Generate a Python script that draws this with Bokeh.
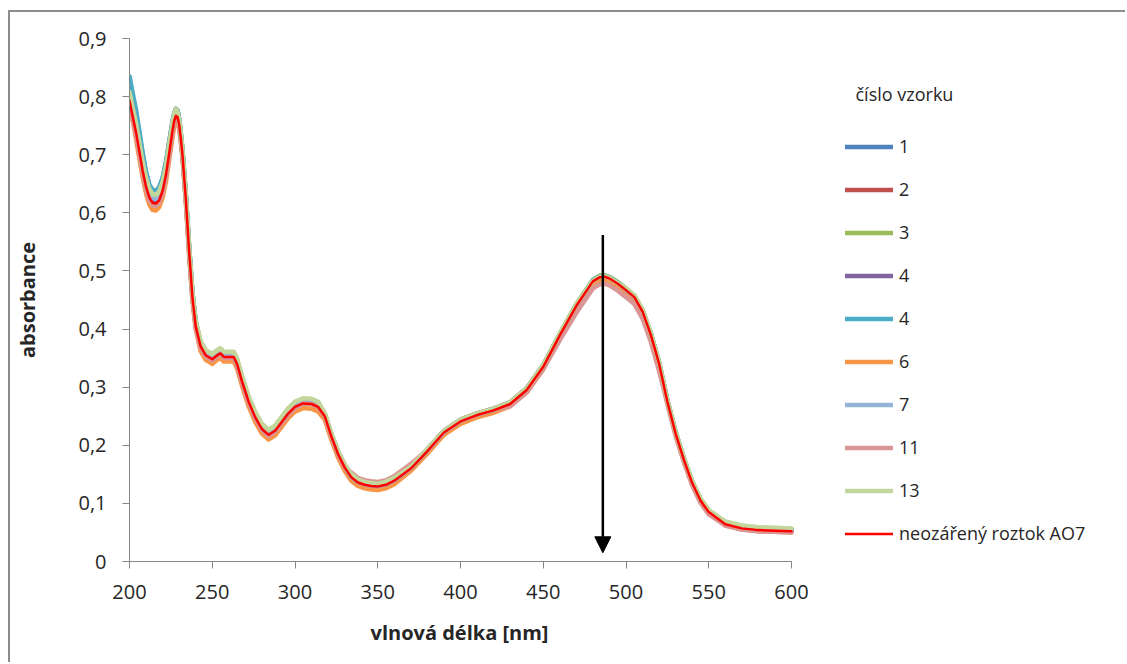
from bokeh.plotting import figure
from bokeh.models import (Range1d, FixedTicker, CustomJSTickFormatter, Legend, LegendItem,
                          Arrow, NormalHead, Label, Title)
from bokeh.embed import file_html
from bokeh.resources import INLINE

wavelength = [200, 202, 204, 206, 208, 210, 212, 214, 216, 218,
              220, 222, 224, 226, 227, 228, 229, 230, 231, 232,
              234, 236, 238, 240, 243, 246, 250,
              253, 255, 257, 260, 263, 265, 268, 272, 276, 280,
              284, 288, 292, 296, 300, 305, 310, 314, 318, 322,
              326, 330, 334, 338, 342, 346, 350, 355, 360, 370,
              380, 390, 400, 410, 420, 430, 440, 450, 460, 470,
              480, 484, 487, 490, 495, 500, 505, 510, 515, 520,
              525, 530, 535, 540, 545, 550, 560, 570, 580, 590,
              600]

s1 = [.828, .799, .770, .735, .699, .669, .648, .639, .638, .644,
      .660, .687, .723, .758, .771, .779, .776, .762, .737, .708,
      .633, .543, .463, .413, .374, .359, .352,
      .359, .362, .356, .356, .356, .344, .314, .279, .252, .232,
      .222, .229, .244, .259, .270, .276, .275, .270, .254, .219,
      .189, .166, .149, .140, .136, .134, .133, .136, .143, .162,
      .192, .224, .243, .254, .262, .273, .297, .337, .391, .442,
      .484, .491, .492, .489, .480, .469, .457, .432, .392, .342,
      .277, .222, .177, .137, .107, .087, .066, .059, .056, .055,
      .054]
s2 = [.798, .770, .743, .710, .677, .650, .631, .622, .621, .627,
      .643, .670, .708, .747, .761, .770, .768, .752, .728, .700,
      .625, .535, .455, .405, .370, .355, .348,
      .355, .358, .352, .352, .352, .340, .310, .275, .248, .228,
      .218, .225, .240, .255, .266, .272, .271, .266, .250, .215,
      .185, .162, .145, .136, .132, .130, .129, .132, .139, .160,
      .190, .222, .241, .252, .260, .271, .295, .335, .389, .440,
      .482, .489, .490, .487, .478, .467, .455, .430, .390, .340,
      .275, .220, .175, .135, .105, .085, .064, .057, .054, .053,
      .052]
s3 = [.813, .785, .758, .725, .690, .661, .642, .633, .632, .638,
      .654, .681, .718, .755, .770, .779, .776, .762, .737, .708,
      .633, .543, .463, .413, .378, .363, .356,
      .363, .366, .360, .360, .360, .348, .318, .283, .256, .236,
      .226, .233, .248, .263, .274, .280, .279, .274, .254, .219,
      .189, .166, .149, .140, .136, .134, .133, .136, .143, .163,
      .193, .225, .244, .255, .263, .274, .298, .338, .392, .443,
      .485, .492, .493, .490, .481, .470, .458, .433, .393, .343,
      .278, .223, .178, .138, .108, .088, .068, .061, .058, .057,
      .056]
s4 = [.798, .769, .742, .709, .676, .649, .630, .621, .620, .626,
      .642, .669, .707, .746, .762, .771, .769, .756, .732, .704,
      .629, .539, .459, .409, .372, .357, .350,
      .357, .360, .354, .354, .354, .342, .312, .277, .250, .230,
      .220, .227, .242, .257, .268, .274, .273, .268, .252, .217,
      .187, .164, .147, .138, .134, .132, .131, .134, .141, .163,
      .193, .225, .244, .255, .263, .274, .298, .338, .390, .441,
      .483, .490, .491, .488, .479, .468, .456, .431, .391, .341,
      .276, .221, .176, .136, .106, .086, .065, .058, .055, .054,
      .053]
s5 = [.835, .805, .776, .740, .703, .671, .648, .639, .638, .644,
      .660, .685, .721, .757, .771, .779, .776, .762, .737, .708,
      .633, .543, .463, .413, .373, .358, .351,
      .358, .361, .355, .355, .355, .343, .313, .278, .251, .231,
      .221, .228, .243, .258, .269, .275, .274, .269, .253, .218,
      .188, .165, .148, .139, .135, .133, .132, .135, .142, .163,
      .192, .224, .243, .254, .262, .273, .297, .337, .391, .442,
      .484, .491, .492, .489, .480, .469, .457, .432, .392, .342,
      .277, .222, .177, .137, .107, .087, .066, .059, .056, .055,
      .054]
s6 = [.788, .757, .726, .693, .660, .633, .614, .605, .604, .610,
      .626, .653, .691, .730, .748, .757, .758, .745, .721, .695,
      .620, .530, .450, .400, .362, .347, .340,
      .347, .350, .344, .344, .344, .332, .302, .267, .240, .220,
      .210, .217, .232, .247, .258, .264, .263, .258, .244, .209,
      .179, .156, .139, .130, .126, .124, .123, .126, .133, .156,
      .186, .218, .237, .248, .256, .267, .291, .331, .385, .436,
      .478, .485, .486, .483, .474, .463, .451, .426, .386, .336,
      .273, .218, .173, .133, .103, .083, .062, .055, .052, .051,
      .050]
s7 = [.803, .773, .746, .713, .680, .653, .634, .625, .624, .630,
      .646, .673, .711, .750, .763, .772, .766, .753, .729, .701,
      .626, .536, .456, .406, .371, .356, .349,
      .356, .359, .353, .353, .353, .341, .311, .276, .249, .229,
      .219, .226, .241, .256, .267, .273, .272, .267, .251, .216,
      .186, .163, .146, .137, .133, .131, .130, .133, .140, .161,
      .191, .223, .242, .253, .261, .272, .296, .336, .390, .441,
      .483, .490, .491, .488, .479, .468, .456, .431, .391, .341,
      .276, .221, .176, .136, .106, .086, .065, .058, .055, .054,
      .053]
s11 = [.793, .761, .734, .701, .668, .641, .622, .613, .612, .618,
       .634, .661, .699, .738, .755, .764, .762, .750, .726, .698,
       .623, .533, .453, .403, .368, .353, .346,
       .353, .356, .350, .350, .350, .338, .308, .273, .246, .226,
       .216, .223, .238, .253, .264, .272, .271, .266, .250, .215,
       .185, .162, .153, .144, .140, .138, .137, .140, .147, .168,
       .192, .224, .243, .254, .262, .267, .291, .331, .381, .428,
       .470, .477, .478, .475, .466, .455, .443, .418, .378, .328,
       .271, .216, .171, .131, .101, .081, .062, .055, .052, .051,
       .050]
s13 = [.808, .780, .753, .720, .687, .660, .641, .632, .631, .637,
       .653, .680, .718, .755, .770, .779, .774, .761, .737, .709,
       .634, .544, .464, .414, .379, .364, .357,
       .364, .367, .361, .361, .361, .349, .319, .284, .257, .237,
       .227, .234, .249, .264, .275, .281, .280, .275, .255, .220,
       .190, .167, .150, .141, .137, .135, .134, .137, .144, .163,
       .193, .225, .244, .255, .263, .274, .298, .338, .392, .443,
       .483, .490, .491, .488, .479, .470, .458, .433, .393, .343,
       .278, .223, .178, .138, .108, .088, .069, .062, .059, .058,
       .057]
ao7 = [.793, .765, .738, .705, .672, .645, .626, .617, .616, .622,
       .638, .665, .703, .742, .758, .767, .765, .752, .728, .700,
       .625, .535, .455, .405, .370, .355, .348,
       .355, .358, .352, .352, .352, .340, .310, .275, .248, .228,
       .218, .225, .240, .255, .266, .272, .271, .266, .250, .215,
       .185, .162, .145, .136, .132, .130, .129, .132, .139, .160,
       .190, .222, .241, .252, .260, .271, .295, .335, .389, .440,
       .482, .489, .490, .487, .478, .467, .455, .430, .390, .340,
       .275, .220, .175, .135, .105, .085, .064, .057, .054, .053,
       .052]

series_labels = ["1", "2", "3", "4", "4", "6", "7", "11", "13", "neozářený roztok AO7"]
series_values = [s1, s2, s3, s4, s5, s6, s7, s11, s13, ao7]
series_colors = ["#4F81BD", "#C0504D", "#9BBB59", "#8064A2", "#4BACC6",
                 "#F79646", "#95B3D7", "#D99694", "#C3D69B", "#FF0000"]
series_widths = [4.5] * 9 + [2.5]

x_ticks = [200, 250, 300, 350, 400, 450, 500, 550, 600]
y_ticks = [0, 0.1, 0.2, 0.3, 0.4, 0.5, 0.6, 0.7, 0.8, 0.9]
x_min, x_max = 200, 600
y_min, y_max = 0, 0.9
legend_title = "číslo vzorku"
x_title = "vlnová délka [nm]"
y_title = "absorbance"

arrow_x = 486
arrow_top = 0.562
arrow_tip = 0.015

FONT = "Open Sans"
TXT = "#262626"
AX = "#868686"

# layout (pixels)
W, H = 1117, 652
LEFT, TOP, BOTTOM = 119, 26, 103
AXIS_PX = 662          # pixel length of the 200..600 axis
FRAME_H = H - TOP - BOTTOM
frame_px = W - LEFT    # frame extends to the right edge to host the legend
x_end = x_min + (x_max - x_min) * frame_px / AXIS_PX
LEG_TITLE_DX, LEG_TITLE_DY = 726, 468   # px from frame left / frame bottom
XTITLE_OFFSET = 241                      # px from frame left

p = figure(width=W, height=H, output_backend="svg", toolbar_location=None,
           x_range=Range1d(x_min, x_end), y_range=Range1d(y_min, y_max),
           min_border_left=LEFT, min_border_right=0, min_border_top=TOP, min_border_bottom=BOTTOM)
p.styles = {"margin-left": "8px", "margin-top": "10px",
            "border-top": "2px solid #8c8c8c", "border-left": "2px solid #8c8c8c"}
p.outline_line_color = None
p.xgrid.visible = False
p.ygrid.visible = False
p.background_fill_color = "white"
p.border_fill_color = "white"

for ax in (p.xaxis[0], p.yaxis[0]):
    ax.axis_line_color = AX
    ax.major_tick_line_color = AX
    ax.minor_tick_line_color = None
    ax.major_tick_in = 0
    ax.major_tick_out = 7
    ax.major_label_text_font = FONT
    ax.major_label_text_font_size = "20px"
    ax.major_label_text_color = TXT
    ax.axis_label_text_font = FONT
    ax.axis_label_text_font_size = "20px"
    ax.axis_label_text_font_style = "bold"
    ax.axis_label_text_color = TXT

p.xaxis.bounds = (x_min, x_max)
p.xaxis.ticker = FixedTicker(ticks=x_ticks)
p.yaxis.ticker = FixedTicker(ticks=y_ticks)
p.yaxis.formatter = CustomJSTickFormatter(
    code="return tick == 0 ? '0' : tick.toFixed(1).replace('.', ',');")
p.yaxis.axis_label = y_title
p.xaxis.major_label_standoff = 16
p.yaxis.major_label_standoff = 16
p.yaxis.axis_label_standoff = 34

p.add_layout(Title(text=x_title, align="left", offset=XTITLE_OFFSET, standoff=31,
                   text_font=FONT, text_font_size="20px", text_font_style="bold",
                   text_color=TXT), "below")

items = []
for lab, vals, col, w in zip(series_labels, series_values, series_colors, series_widths):
    r = p.line(wavelength, vals, line_color=col, line_width=w, line_join="round", line_cap="round")
    items.append(LegendItem(label=lab, renderers=[r]))

legend = Legend(items=items, location=(716, 16), orientation="vertical",
                glyph_width=48, glyph_height=21, label_height=21, spacing=19,
                label_standoff=6, padding=0, margin=0,
                border_line_color=None, background_fill_alpha=0,
                label_text_font=FONT, label_text_font_size="18px", label_text_color=TXT)
p.add_layout(legend, "center")

p.add_layout(Label(x=x_min + (x_max - x_min) * LEG_TITLE_DX / AXIS_PX,
                   y=y_min + (y_max - y_min) * LEG_TITLE_DY / FRAME_H,
                   text=legend_title, text_font=FONT, text_font_size="18px",
                   text_color=TXT, text_baseline="middle"))

p.add_layout(Arrow(x_start=arrow_x, y_start=arrow_top, x_end=arrow_x, y_end=arrow_tip,
                   line_color="black", line_width=2.5,
                   end=NormalHead(size=16, fill_color="black", line_color="black")))

open("out.html", "w").write(file_html(p, INLINE))
